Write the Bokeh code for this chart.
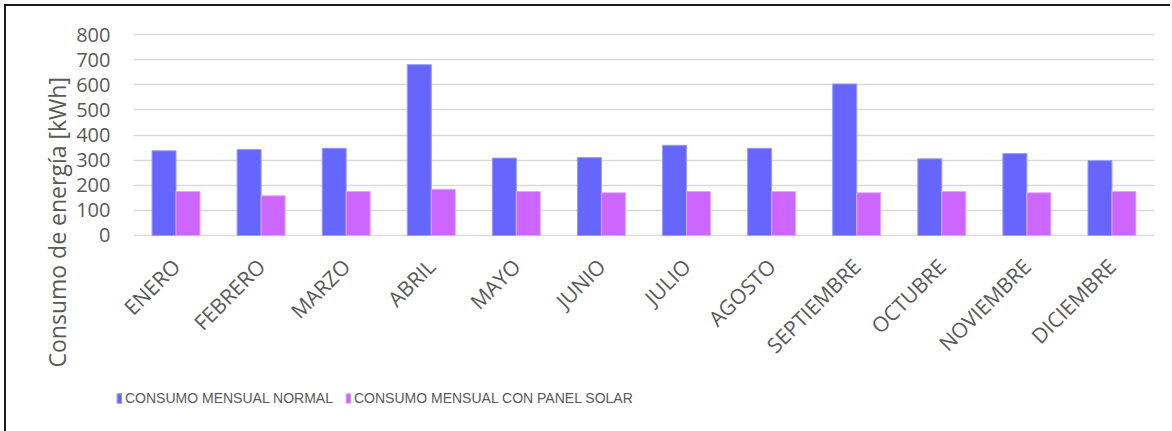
import math

from bokeh.embed import file_html
from bokeh.layouts import column
from bokeh.models import (ColumnDataSource, Range1d, Legend, LegendItem,
                          LinearAxis, FixedTicker, Title)
from bokeh.plotting import figure
from bokeh.resources import INLINE
from bokeh.transform import dodge

# Monthly energy consumption (kWh)
months = ["ENERO", "FEBRERO", "MARZO", "ABRIL", "MAYO", "JUNIO", "JULIO",
          "AGOSTO", "SEPTIEMBRE", "OCTUBRE", "NOVIEMBRE", "DICIEMBRE"]
consumo_normal = [337, 342, 347, 680, 308, 310, 359, 347, 603, 305, 326, 298]
consumo_solar = [175, 158, 175, 184, 175, 170, 175, 175, 170, 175, 170, 175]
series_labels = ["CONSUMO MENSUAL NORMAL", "CONSUMO MENSUAL CON PANEL SOLAR"]
y_ticks = [0, 100, 200, 300, 400, 500, 600, 700, 800]
y_title = "Consumo de energía [kWh]"

BLUE = "#6666FF"
PINK = "#CC66FF"
BLUE_EDGE = "#9A9AFF"
PINK_EDGE = "#E2A8FF"
GREY_TEXT = "#595959"
GRID = "#D9D9D9"

n = len(months)
centers = [i + 0.5 for i in range(n)]
source = ColumnDataSource(dict(x=centers, month=months,
                               normal=consumo_normal, solar=consumo_solar))

# ---------------------------------------------------------------- bar chart
p = figure(
    x_range=Range1d(0, n),
    y_range=Range1d(-4, 804),
    width=1164, height=374,
    output_backend="svg", toolbar_location=None,
    x_axis_location=None,
    min_border_left=127, min_border_right=16,
    min_border_top=27, min_border_bottom=144,
)

bar_w = 0.282
p.vbar(x=dodge("x", -bar_w / 2), top="normal", width=bar_w,
       source=source, fill_color=BLUE, line_color=BLUE_EDGE, line_width=1)
p.vbar(x=dodge("x", bar_w / 2), top="solar", width=bar_w,
       source=source, fill_color=PINK, line_color=PINK_EDGE, line_width=1)

p.outline_line_color = None
p.background_fill_color = "white"
p.border_fill_color = "white"

p.xgrid.grid_line_color = None
p.ygrid.grid_line_color = GRID
p.ygrid.grid_line_width = 1.5
p.ygrid.ticker = y_ticks

p.yaxis.ticker = y_ticks
p.yaxis.axis_line_color = None
p.yaxis.major_tick_line_color = None
p.yaxis.major_tick_out = 0
p.yaxis.major_tick_in = 0
p.yaxis.minor_tick_line_color = None
p.yaxis.major_label_standoff = 23
p.yaxis.major_label_text_font = "Open Sans"
p.yaxis.major_label_text_font_size = "20px"
p.yaxis.major_label_text_color = GREY_TEXT

# vertical title starting below the frame bottom
p.add_layout(Title(text=y_title, align="left", offset=-131, standoff=2,
                   text_font="Open Sans", text_font_size="23px",
                   text_font_style="normal", text_color=GREY_TEXT), "left")

# month axis, one tick per bar pair
xaxis = LinearAxis(ticker=FixedTicker(ticks=centers),
                   major_label_overrides={c: m for c, m in zip(centers, months)})
xaxis.axis_line_color = None
xaxis.major_tick_line_color = None
xaxis.major_tick_out = 0
xaxis.major_tick_in = 0
xaxis.minor_tick_line_color = None
xaxis.major_label_orientation = math.pi / 4
xaxis.major_label_standoff = 26
xaxis.major_label_text_font = "Open Sans"
xaxis.major_label_text_font_size = "21px"
xaxis.major_label_text_color = GREY_TEXT
p.add_layout(xaxis, "below")

# ---------------------------------------------------------------- legend strip
leg_fig = figure(
    x_range=Range1d(0, 1), y_range=Range1d(0, 1),
    width=1164, height=51,
    output_backend="svg", toolbar_location=None,
    x_axis_location=None, y_axis_location=None,
    min_border=0,
)
if "frame_align" in leg_fig.properties():
    leg_fig.frame_align = False
    p.frame_align = False
leg_fig.outline_line_color = None
leg_fig.grid.grid_line_color = None
leg_fig.background_fill_color = "white"
leg_fig.border_fill_color = "white"

# swatch renderers sit outside the visible range; only their legend entries show
swatch_normal = leg_fig.vbar(x=[5], top=[0.5], width=0.1, fill_color=BLUE, line_color=BLUE_EDGE)
swatch_solar = leg_fig.vbar(x=[5], top=[0.5], width=0.1, fill_color=PINK, line_color=PINK_EDGE)


def make_legend(label, renderer, loc):
    leg = Legend(items=[LegendItem(label=label, renderers=[renderer])], location=loc,
                 orientation="horizontal", padding=0, margin=0, spacing=0,
                 glyph_width=6, glyph_height=12, label_standoff=3, label_height=12,
                 label_text_font="Liberation Sans", label_text_font_size="14px",
                 label_text_color=GREY_TEXT, border_line_color=None,
                 background_fill_alpha=0, click_policy="none")
    leg_fig.add_layout(leg, "center")


make_legend(series_labels[0], swatch_normal, (110, 25))
make_legend(series_labels[1], swatch_solar, (339, 25))

layout = column(p, leg_fig, spacing=0)
layout.styles = {"margin": "4px 0 0 4px", "border-left": "2px solid #1a1a1a",
                 "border-top": "2px solid #1a1a1a"}

open("out.html", "w").write(file_html(layout, INLINE))
